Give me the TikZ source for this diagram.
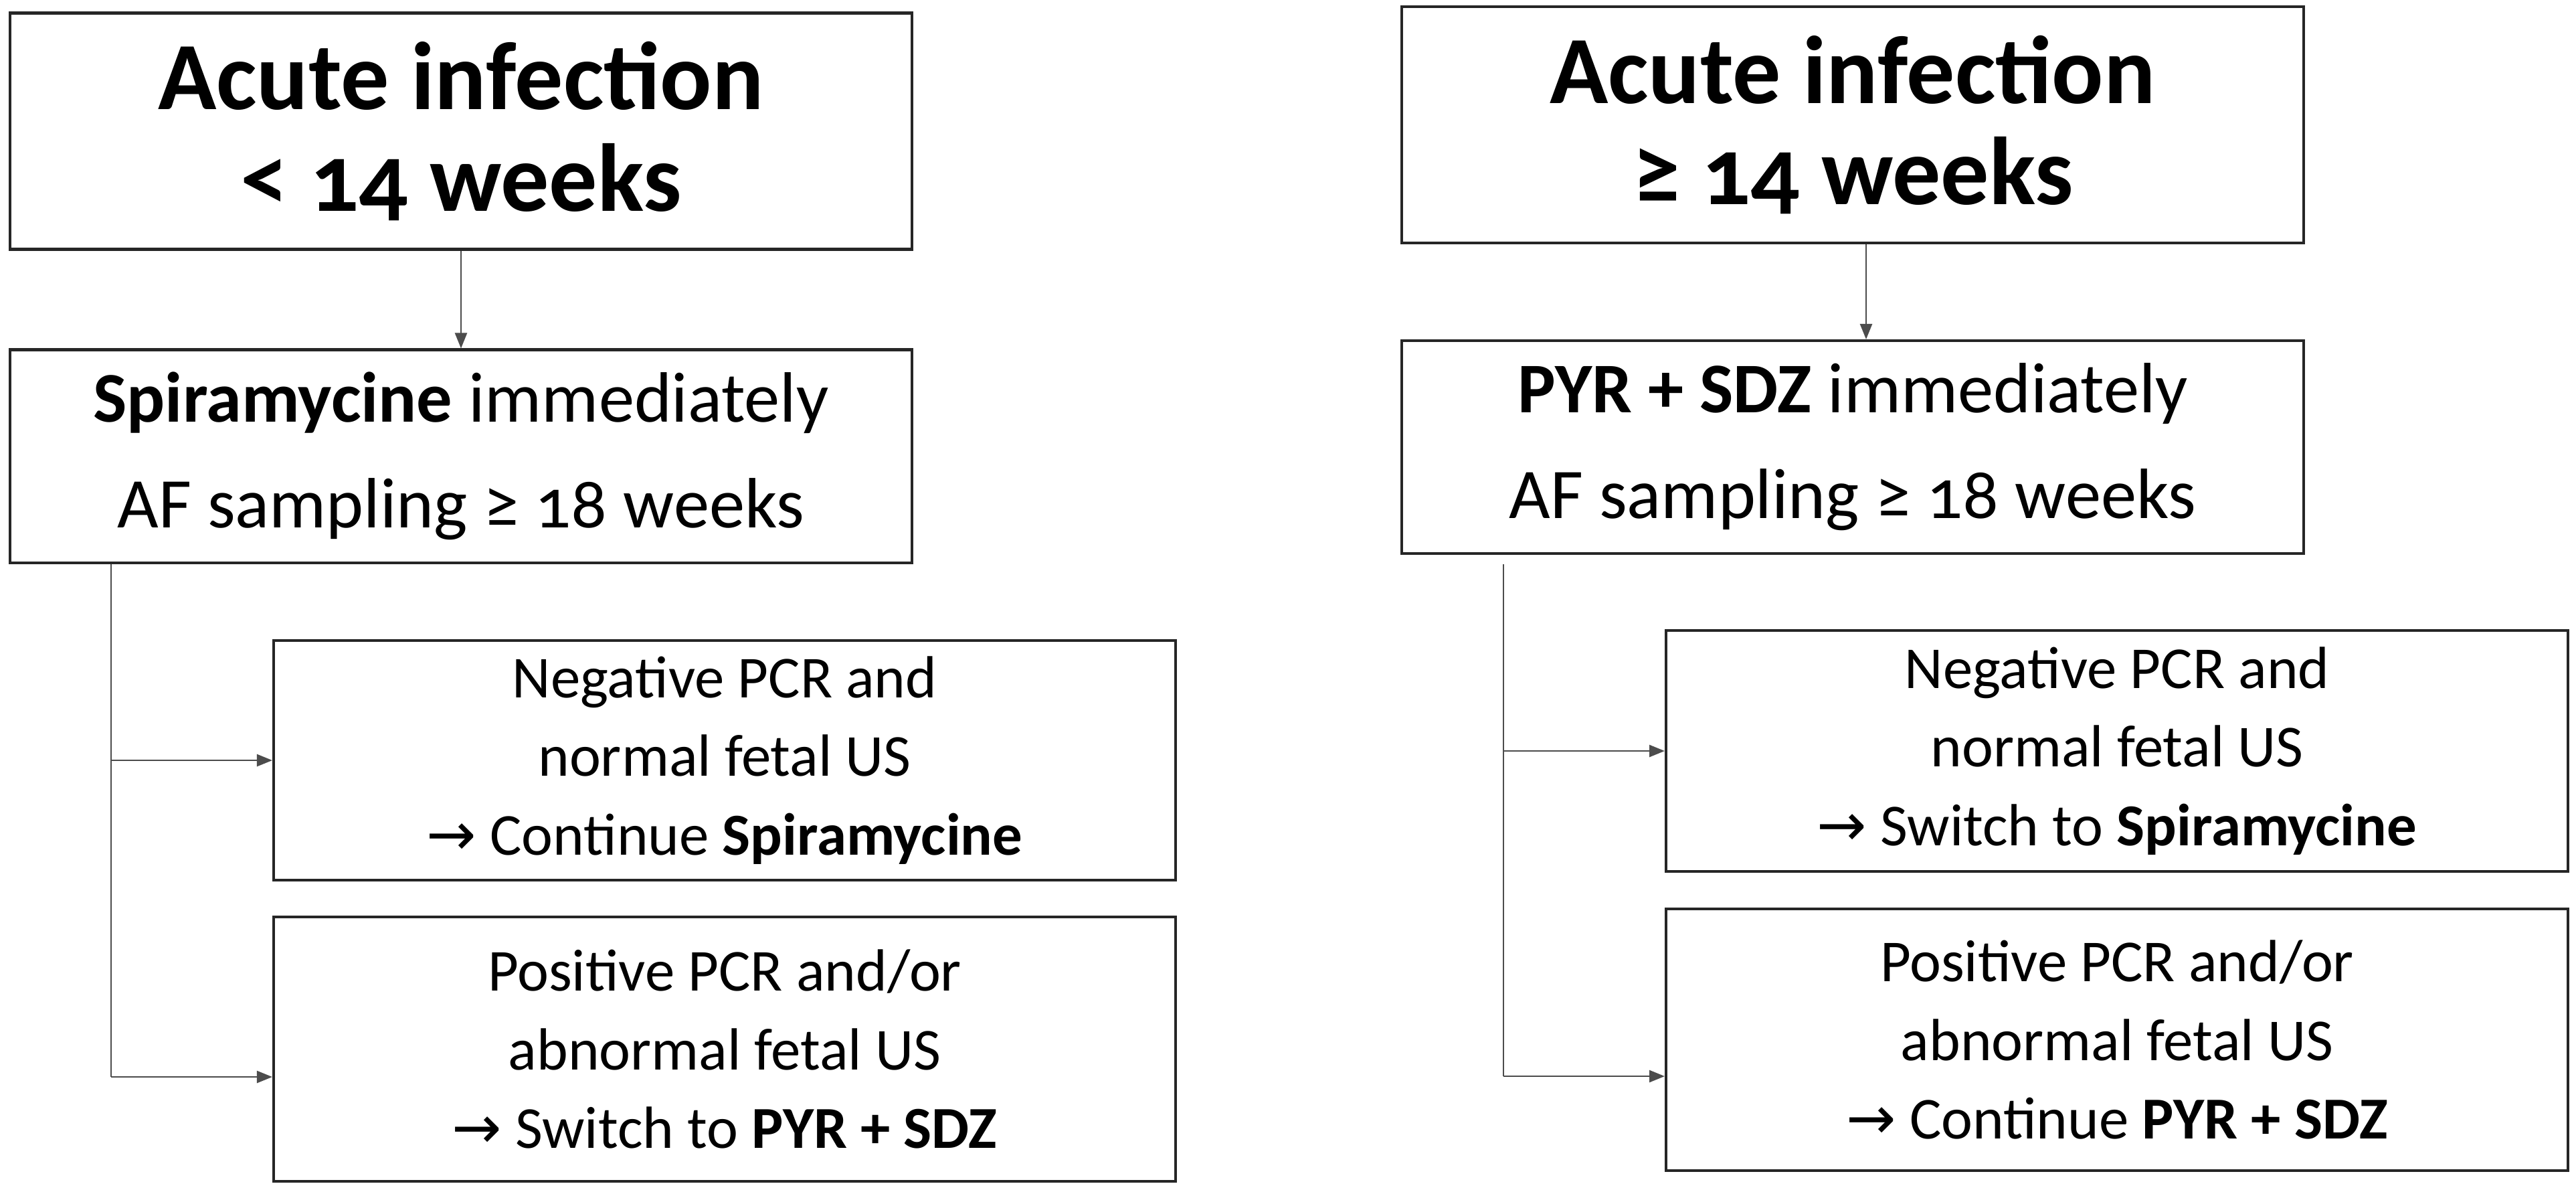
\documentclass[tikz,border=0pt]{standalone}
\usepackage{fontspec}
\setmainfont{Carlito}[Numbers=OldStyle]
\newfontfamily\arrowfont{DejaVu Sans}
\newcommand{\nextstep}{{\arrowfont →}}
\usetikzlibrary{arrows.meta}

\tikzset{
  box/.style={draw=black!85, line width=1.15pt, fill=white, align=center,
    inner sep=0pt, minimum width=13.48cm},
  title/.style={box, minimum height=3.53cm, font=\fontsize{41}{43}\selectfont\bfseries},
  treat/.style={box, minimum height=3.18cm, font=\fontsize{30.3}{45}\selectfont},
  result/.style={box, font=\fontsize{25.3}{33.4}\selectfont},
  conn/.style={draw=black!70, line width=0.7pt},
  arr/.style={conn, -{Triangle[length=0.23cm,width=0.18cm]}}
}

\begin{document}
\begin{tikzpicture}
  \useasboundingbox (0,0) rectangle (38.5,-17.71);

  % left: early infection
  \path
  (6.89,-1.96) node[title](acuteL) {Acute infection\\< 14 weeks}
  (6.89,-6.815) node[treat](treatL) {\textbf{Spiramycine} immediately\\AF sampling ≥ 18 weeks}
  (10.83,-11.36) node[result, minimum height=3.58cm](negL) {Negative PCR and\\normal fetal US\\\nextstep\ Continue \textbf{Spiramycine}}
  (10.83,-15.675) node[result, minimum height=3.95cm](posL) {Positive PCR and/or\\abnormal fetal US\\\nextstep\ Switch to \textbf{PYR + SDZ}}
  ;
  \coordinate (trunkL) at (1.66,-16.09);

  \draw[arr] (acuteL) -- (treatL);
  \draw[conn] (treatL.south -| trunkL) -- (trunkL);
  \draw[arr] (negL.west -| trunkL) -- (negL.west);
  \draw[arr] (trunkL) -- (posL.west |- trunkL);

  % right: late infection
  \path
  (27.69,-1.865) node[title](acuteR) {Acute infection\\≥ 14 weeks}
  (27.69,-6.68) node[treat](treatR) {\textbf{PYR + SDZ} immediately\\AF sampling ≥ 18 weeks}
  (31.64,-11.22) node[result, minimum height=3.60cm](negR) {Negative PCR and\\normal fetal US\\\nextstep\ Switch to \textbf{Spiramycine}}
  (31.64,-15.535) node[result, minimum height=3.91cm](posR) {Positive PCR and/or\\abnormal fetal US\\\nextstep\ Continue \textbf{PYR + SDZ}}
  ;
  \coordinate (trunkR) at (22.47,-16.08);

  \draw[arr] ([xshift=0.2cm]acuteR.south) -- ([xshift=0.2cm]treatR.north);
  \draw[conn] ([yshift=-0.14cm]treatR.south -| trunkR) -- (trunkR);
  \draw[arr] (negR.west -| trunkR) -- (negR.west);
  \draw[arr] (trunkR) -- (posR.west |- trunkR);
\end{tikzpicture}
\end{document}
